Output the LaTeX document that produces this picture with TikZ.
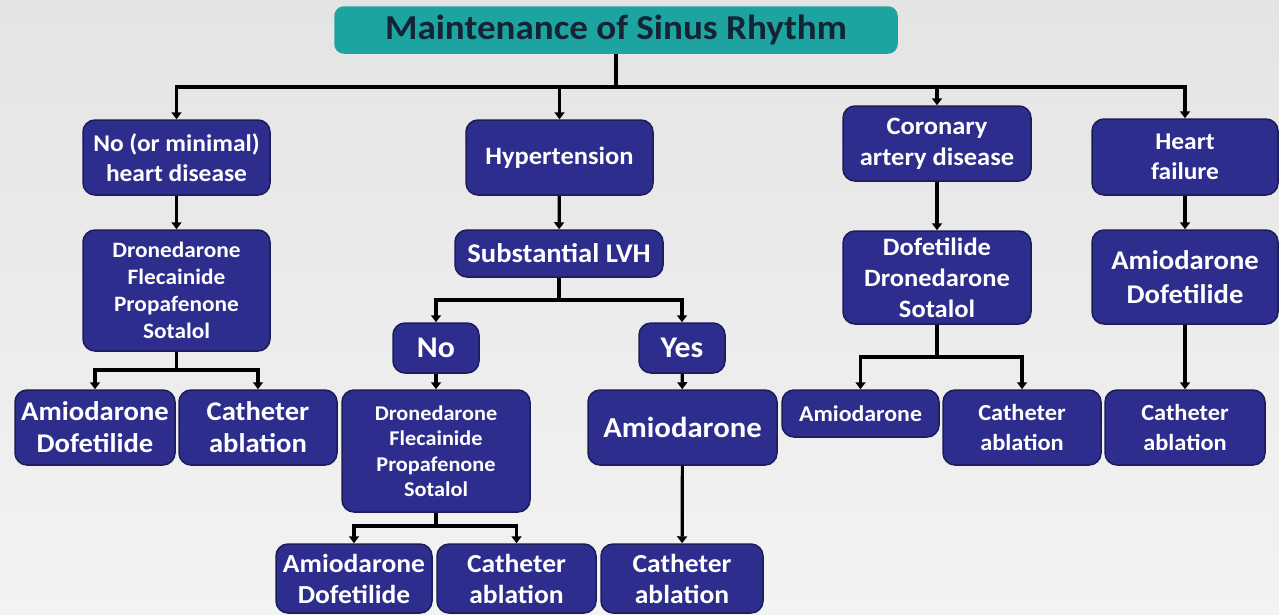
\documentclass[tikz,border=0pt]{standalone}
\usepackage{fontspec}
\setmainfont{Carlito}[FakeStretch=1.06]
\usetikzlibrary{arrows.meta}
\definecolor{boxfill}{RGB}{45,45,142}
\definecolor{boxline}{RGB}{28,28,88}
\definecolor{titlefill}{RGB}{30,164,160}
\definecolor{titletext}{RGB}{20,36,52}
\definecolor{bgtop}{RGB}{228,228,228}
\definecolor{bgbot}{RGB}{243,243,243}
\newcommand\fs[2]{\fontsize{#1}{#2}\selectfont\bfseries}
\tikzset{
  box/.style={draw=boxline, line width=1.5pt, fill=boxfill, rounded corners=12pt,
    text=white, align=center, inner sep=0pt},
  conn/.style={line width=3.2pt, black},
  arr/.style={conn, -{Triangle[length=7pt 0,width=10pt 0]}},
}
\begin{document}
\begin{tikzpicture}[x=1pt,y=-1pt]
\shade[top color=bgtop, bottom color=bgbot] (0,0) rectangle (1279,614);
\useasboundingbox (0,0) rectangle (1279,614);

\node[box, fill=titlefill, draw=titlefill, text=titletext, minimum width=562pt, minimum height=46pt, rounded corners=9pt,
  font=\fs{35}{40}] (title) at (616,30) {Maintenance of Sinus Rhythm};

\node[box, minimum width=187pt, minimum height=75pt, font=\fs{24}{30}] (n1) at (176.5,157.5) {No (or minimal)\\heart disease};
\node[box, minimum width=187pt, minimum height=75pt, font=\fs{25}{30}] (hyp) at (559.5,157.5) {Hypertension};
\node[box, minimum width=188pt, minimum height=75pt, font=\fs{25}{31}] (cad) at (937,143.5) {Coronary\\artery disease};
\node[box, minimum width=186pt, minimum height=76pt, font=\fs{24}{30}] (hf) at (1185,157) {Heart\\failure};

\node[box, minimum width=187pt, minimum height=121pt, font=\fs{22}{27}] (d1) at (176.5,290.5) {Dronedarone\\Flecainide\\Propafenone\\Sotalol};
\node[box, minimum width=208pt, minimum height=47pt, font=\fs{27}{32}] (lvh) at (559,253.5) {Substantial LVH};
\node[box, minimum width=188pt, minimum height=93pt, font=\fs{25}{31}] (d3) at (937,277.5) {Dofetilide\\Dronedarone\\Sotalol};
\node[box, minimum width=186pt, minimum height=94pt, font=\fs{27}{34}] (hfa) at (1185,277) {Amiodarone\\Dofetilide};

\node[box, minimum width=86pt, minimum height=50pt, font=\fs{30}{34}] (no) at (436,348) {No};
\node[box, minimum width=86pt, minimum height=50pt, font=\fs{30}{34}] (yes) at (682,348) {Yes};

\node[box, minimum width=160pt, minimum height=75pt, font=\fs{27}{32}] (a1) at (95,427.5) {Amiodarone\\Dofetilide};
\node[box, minimum width=158pt, minimum height=75pt, font=\fs{27}{32}] (c1) at (258,427.5) {Catheter\\ablation};
\node[box, minimum width=188pt, minimum height=122pt, font=\fs{21}{25.5}] (d2) at (436,451) {Dronedarone\\Flecainide\\Propafenone\\Sotalol};
\node[box, minimum width=189pt, minimum height=75pt, font=\fs{29}{34}] (ay) at (682.5,427.5) {Amiodarone};
\node[box, minimum width=157pt, minimum height=47pt, font=\fs{22.5}{28}] (a3) at (860.5,413.5) {Amiodarone};
\node[box, minimum width=158pt, minimum height=75pt, font=\fs{23}{30}] (c3) at (1022,427.5) {Catheter\\ablation};
\node[box, minimum width=160pt, minimum height=75pt, font=\fs{23}{30}] (c4) at (1185,427.5) {Catheter\\ablation};

\node[box, minimum width=156pt, minimum height=69pt, font=\fs{26}{31}] (a2) at (354,578.5) {Amiodarone\\Dofetilide};
\node[box, minimum width=159pt, minimum height=69pt, font=\fs{26}{31}] (c2) at (516.5,578.5) {Catheter\\ablation};
\node[box, minimum width=162pt, minimum height=69pt, font=\fs{26}{31}] (c5) at (682,578.5) {Catheter\\ablation};

% connectors
\coordinate (jt) at (616,87);
\draw[conn] (title.south) -- (jt);
\draw[arr] (jt) -| (n1.north);
\draw[arr] (jt) -| (hyp.north);
\draw[arr] (jt) -| (cad.north);
\draw[arr] (jt) -| (hf.north);

\draw[arr] (n1) -- (d1);
\draw[arr] (hyp) -- (lvh);
\draw[arr] (cad) -- (d3);
\draw[arr] (hf) -- (hfa);

\coordinate (j1) at (176.5,370);
\draw[conn] (d1.south) -- (j1);
\draw[arr] (j1) -| (a1.north);
\draw[arr] (j1) -| (c1.north);

\coordinate (j2) at (559,300);
\draw[conn] (lvh.south) -- (j2);
\draw[arr] (j2) -| (no.north);
\draw[arr] (j2) -| (yes.north);

\draw[arr] (no) -- (d2);
\draw[arr] (yes) -- (ay);
\draw[arr] (ay) -- (c5);

\coordinate (j3) at (436,526);
\draw[conn] (d2.south) -- (j3);
\draw[arr] (j3) -| (a2.north);
\draw[arr] (j3) -| (c2.north);

\coordinate (j4) at (937,357);
\draw[conn] (d3.south) -- (j4);
\draw[arr] (j4) -| (a3.north);
\draw[arr] (j4) -| (c3.north);

\draw[arr] (hfa) -- (c4);
\end{tikzpicture}
\end{document}
